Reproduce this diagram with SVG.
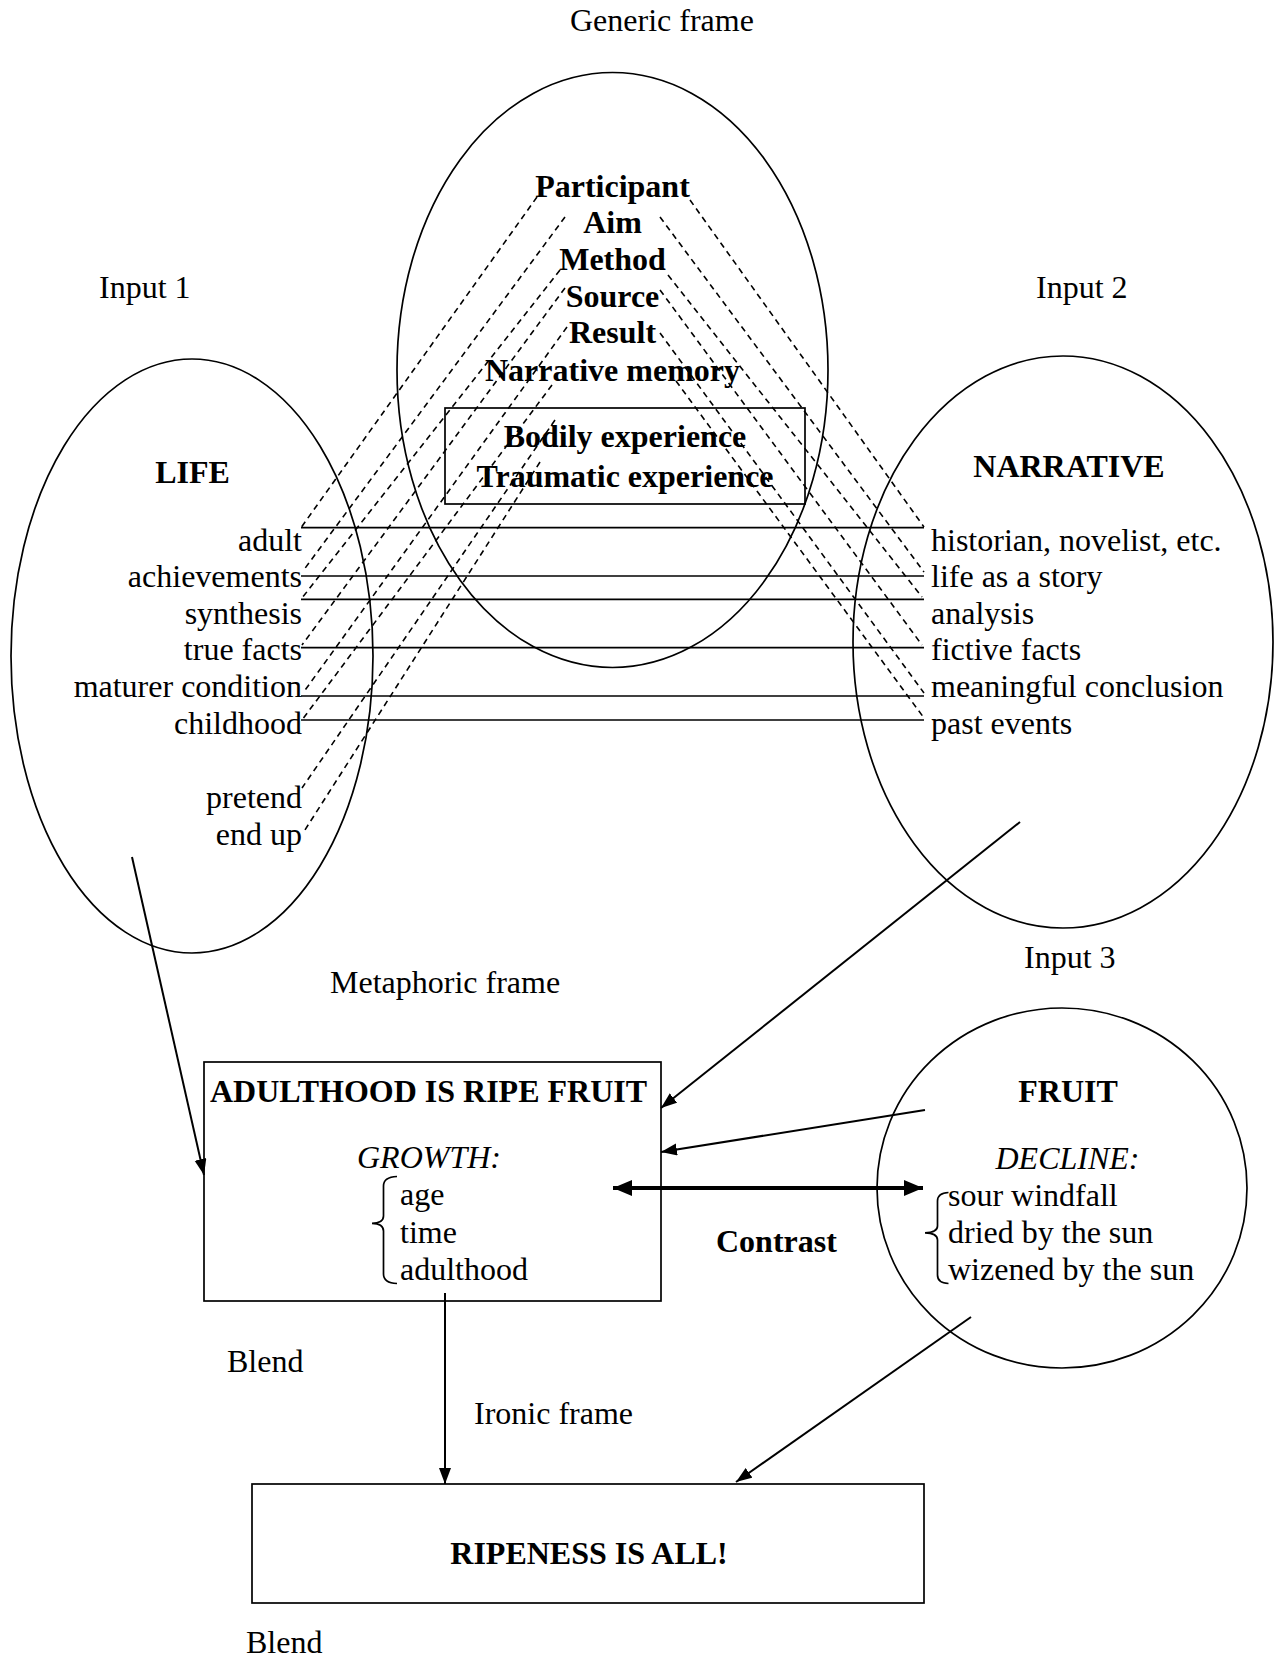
<svg xmlns="http://www.w3.org/2000/svg" width="1288" height="1660" viewBox="0 0 1288 1660">
  <style>
    text { font-family: "Liberation Serif", "Times New Roman", serif; font-size: 32px; fill: #000; }
    .b { font-weight: bold; }
    .i { font-style: italic; }
    .mid { text-anchor: middle; }
    .end { text-anchor: end; }
    .shape { fill: none; stroke: #000; stroke-width: 1.7; }
    .solid { stroke: #000; stroke-width: 1.7; fill: none; }
    .dash { stroke: #000; stroke-width: 1.6; stroke-dasharray: 6 4.5; fill: none; }
    .arrow { stroke: #000; stroke-width: 2; fill: none; marker-end: url(#head); }
    .thick { stroke: #000; stroke-width: 4; fill: none; marker-start: url(#bighead); marker-end: url(#bighead); }
  </style>
  <defs>
    <marker id="head" markerUnits="userSpaceOnUse" markerWidth="18" markerHeight="14" refX="16" refY="6" orient="auto">
      <path d="M0,0 L16,6 L0,12 Z" fill="#000"/>
    </marker>
    <marker id="bighead" markerUnits="userSpaceOnUse" markerWidth="22" markerHeight="18" refX="19" refY="8" orient="auto-start-reverse">
      <path d="M0,0 L19,8 L0,16 Z" fill="#000"/>
    </marker>
  </defs>

  <rect width="1288" height="1660" fill="#fff"/>

  <!-- frame captions -->
  <text x="570" y="31">Generic frame</text>
  <text x="99" y="298">Input 1</text>
  <text x="1036" y="298">Input 2</text>
  <text x="1024" y="968">Input 3</text>
  <text x="330" y="993">Metaphoric frame</text>
  <text x="227" y="1372">Blend</text>
  <text x="474" y="1424">Ironic frame</text>
  <text x="246" y="1653">Blend</text>

  <!-- generic space -->
  <g id="generic">
    <ellipse class="shape" cx="612.5" cy="370" rx="215.5" ry="297.5"/>
    <text class="b mid" x="612.5" y="197">Participant</text>
    <text class="b mid" x="612.5" y="233">Aim</text>
    <text class="b mid" x="612.5" y="270">Method</text>
    <text class="b mid" x="612.5" y="307">Source</text>
    <text class="b mid" x="612.5" y="343">Result</text>
    <text class="b mid" x="612.5" y="381">Narrative memory</text>
  </g>

  <g id="embodied">
    <rect class="shape" x="445" y="408" width="360" height="96"/>
    <text class="b mid" x="625" y="447">Bodily experience</text>
    <text class="b mid" x="625" y="487">Traumatic experience</text>
  </g>

  <!-- input 1 -->
  <g id="life">
    <ellipse class="shape" cx="192" cy="656" rx="181" ry="297"/>
    <text class="b mid" x="192.5" y="483">LIFE</text>
    <text class="end" x="302" y="551">adult</text>
    <text class="end" x="302" y="587">achievements</text>
    <text class="end" x="302" y="624">synthesis</text>
    <text class="end" x="302" y="660">true facts</text>
    <text class="end" x="302" y="697">maturer condition</text>
    <text class="end" x="302" y="734">childhood</text>
    <text class="end" x="302" y="808">pretend</text>
    <text class="end" x="302" y="845">end up</text>
  </g>

  <!-- input 2 -->
  <g id="narrative">
    <ellipse class="shape" cx="1063" cy="642" rx="210" ry="286"/>
    <text class="b mid" x="1069" y="477">NARRATIVE</text>
    <text x="931" y="551">historian, novelist, etc.</text>
    <text x="931" y="587">life as a story</text>
    <text x="931" y="624">analysis</text>
    <text x="931" y="660">fictive facts</text>
    <text x="931" y="697">meaningful conclusion</text>
    <text x="931" y="734">past events</text>
  </g>

  <!-- input 3 -->
  <g id="fruit">
    <ellipse class="shape" cx="1062" cy="1188" rx="185" ry="180"/>
    <text class="b mid" x="1068" y="1102">FRUIT</text>
    <text class="i mid" x="1067.5" y="1169">DECLINE:</text>
    <text x="948" y="1206">sour windfall</text>
    <text x="948" y="1243">dried by the sun</text>
    <text x="948" y="1280">wizened by the sun</text>
    <path class="solid" stroke-width="1.4" d="M948.5,1192.5 Q937.5,1193 937.5,1201 L937.5,1226 Q937.5,1232.5 925,1232.8 Q937.5,1233 937.5,1240 L937.5,1275 Q937.5,1283 948.5,1283.5"/>
  </g>

  <!-- blend 1 -->
  <g id="adulthood">
    <rect class="shape" x="204" y="1062" width="457" height="239"/>
    <text class="b mid" x="428.5" y="1102">ADULTHOOD IS RIPE FRUIT</text>
    <text class="i mid" x="429" y="1168">GROWTH:</text>
    <text x="400" y="1205">age</text>
    <text x="400" y="1243">time</text>
    <text x="400" y="1280">adulthood</text>
    <path class="solid" stroke-width="1.4" d="M397,1176.5 Q383.5,1177 383.5,1186 L383.5,1216 Q383.5,1223 372,1223.3 Q383.5,1223.6 383.5,1231 L383.5,1274 Q383.5,1283 397,1283.5"/>
  </g>

  <!-- blend 2 -->
  <g id="ripeness">
    <rect class="shape" x="252" y="1484" width="672" height="119"/>
    <text class="b mid" x="589" y="1564">RIPENESS IS ALL!</text>
  </g>

  <!-- connectors -->
  <g id="connectors">
    <!-- counterpart links between the inputs -->
    <line class="solid" x1="301" y1="527.7" x2="924" y2="527.7"/>
    <line class="solid" x1="301" y1="576" x2="924" y2="576"/>
    <line class="solid" x1="301" y1="599.3" x2="924" y2="599.3"/>
    <line class="solid" x1="301" y1="647.7" x2="924" y2="647.7"/>
    <line class="solid" x1="301" y1="696" x2="924" y2="696"/>
    <line class="solid" x1="301" y1="720" x2="924" y2="720"/>

    <!-- generic space to input 1 -->
    <line class="dash" x1="537" y1="197" x2="301" y2="527.7"/>
    <line class="dash" x1="565" y1="217" x2="303" y2="571"/>
    <line class="dash" x1="560" y1="270" x2="301" y2="599.3"/>
    <line class="dash" x1="565" y1="288" x2="302" y2="645"/>
    <line class="dash" x1="567" y1="327" x2="303" y2="693"/>
    <line class="dash" x1="552" y1="385" x2="302" y2="720"/>
    <line class="dash" x1="555" y1="420" x2="302" y2="788"/>
    <line class="dash" x1="540" y1="462" x2="303" y2="833"/>

    <!-- generic space to input 2 -->
    <line class="dash" x1="690" y1="200" x2="924" y2="527"/>
    <line class="dash" x1="660" y1="217" x2="924" y2="572"/>
    <line class="dash" x1="668" y1="275" x2="922" y2="597"/>
    <line class="dash" x1="660" y1="290" x2="922" y2="645"/>
    <line class="dash" x1="660" y1="333" x2="924" y2="693"/>
    <line class="dash" x1="676" y1="381" x2="924" y2="718"/>

    <!-- projections -->
    <line class="arrow" x1="132" y1="857" x2="204" y2="1175"/>
    <line class="arrow" x1="1020" y1="822" x2="661" y2="1108"/>
    <line class="arrow" x1="925" y1="1110" x2="661" y2="1152"/>
    <line class="thick" x1="613" y1="1188" x2="923" y2="1188"/>
    <line class="arrow" x1="445" y1="1293" x2="445" y2="1484"/>
    <line class="arrow" x1="971" y1="1317" x2="736" y2="1482"/>
  </g>
  <text class="b" x="716" y="1252">Contrast</text>
</svg>
